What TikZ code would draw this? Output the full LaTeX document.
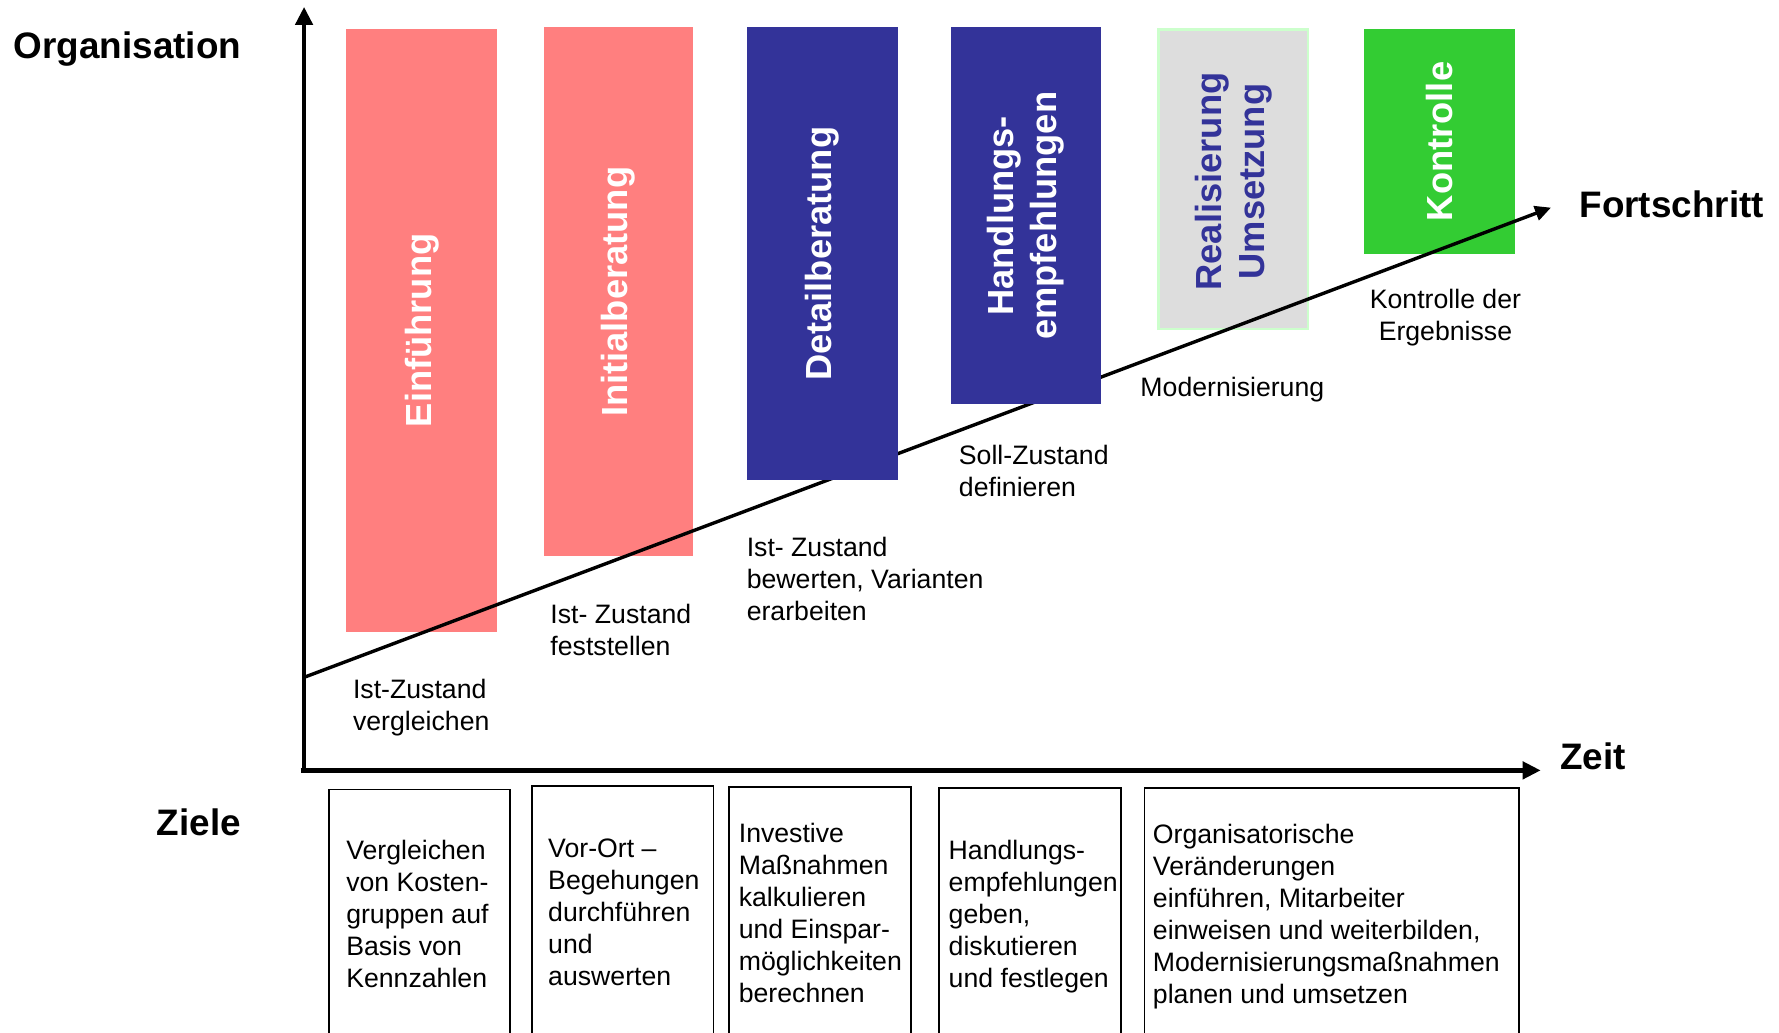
\documentclass[tikz,border=0pt]{standalone}
\usepackage{fontspec}
\setmainfont{Liberation Sans}
\usetikzlibrary{arrows.meta}
\definecolor{salmon}{HTML}{FF7F7F}
\definecolor{navy}{HTML}{333399}
\definecolor{lgray}{HTML}{DDDDDD}
\definecolor{lgreen}{HTML}{CCFFCC}
\definecolor{kgreen}{HTML}{33CC33}
\tikzset{
  phasebox/.style={draw=none, inner sep=0pt, anchor=north west},
  phasetext/.style={rotate=90, font=\fontsize{32}{38}\selectfont\bfseries, align=center, inner sep=0pt},
  lbl/.style={font=\fontsize{23.5}{28.3}\selectfont, align=left, inner sep=0pt, anchor=north west},
  title/.style={font=\fontsize{32.5}{38}\selectfont\bfseries, inner sep=0pt, anchor=base west},
  zbox/.style={draw=black, line width=1.5pt, fill=white, inner sep=0pt, anchor=north west, minimum height=260pt},
  axis/.style={line width=4pt, -{Triangle[width=15pt,length=16pt]}},
  prog/.style={line width=3pt, -{Triangle[width=13pt,length=14pt]}}
}
\begin{document}
\begin{tikzpicture}[x=1pt,y=-1pt]
\clip (0,0) rectangle (1568,910);
\fill[white] (0,0) rectangle (1568,910);

% phase boxes below the progress line
\node[phasebox, fill=salmon, minimum width=133pt, minimum height=532pt] (b1) at (305,25) {};
\node[phasebox, fill=salmon, minimum width=132pt, minimum height=466pt] (b2) at (479,24) {};
\node[phasebox, fill=lgray, draw=lgreen, line width=2pt, minimum width=132pt, minimum height=264pt] (b5) at (1020,25) {};
\node[phasebox, fill=kgreen, minimum width=133pt, minimum height=199pt] (b6) at (1202,25) {};

\node[phasetext, text=white] (t1) at (b1.center) {Einführung};
\node[phasetext, text=white] (t2) at (b2.center) {Initialberatung};
\node[phasetext, text=navy] (t5) at ([yshift=-2pt]b5.center) {Realisierung\\Umsetzung};
\node[phasetext, text=white] (t6) at (b6.center) {Kontrolle};

% axes
\coordinate (O) at (268,680);
\coordinate (ytop) at (268,6);
\coordinate (xo) at (265,679);
\coordinate (xend) at (1358,679);
\coordinate (fs) at (268,597);
\coordinate (fe) at (1367,183);
\draw[axis] (O) -- (ytop);
\draw[axis, line width=5pt] (xo) -- (xend);
\draw[prog] (fs) -- (fe);

% blue phase boxes above the progress line
\node[phasebox, fill=navy, minimum width=133pt, minimum height=399pt] (b3) at (658,24) {};
\node[phasebox, fill=navy, minimum width=132pt, minimum height=332pt] (b4) at (838,24) {};
\node[phasetext, text=white] (t3) at (b3.center) {Detailberatung};
\node[phasetext, text=white] (t4) at (b4.center) {Handlungs-\\empfehlungen};

% titles
\node[title] (org) at (12,52) {Organisation};
\node[title] (fort) at (1392,192) {Fortschritt};
\node[title] (zeit) at (1375,678) {Zeit};
\node[title] (ziele) at (138,736) {Ziele};

% step labels
\node[lbl] (l1) at (311,598) {Ist-Zustand\\vergleichen};
\node[lbl] (l2) at (485,532) {Ist- Zustand\\feststellen};
\node[lbl] (l3) at (658,473) {Ist- Zustand\\bewerten, Varianten\\erarbeiten};
\node[lbl] (l4) at (845,392) {Soll-Zustand\\definieren};
\node[lbl] (l5) at (1005,332) {Modernisierung};
\node[lbl, align=center, anchor=north] (l6) at (1274,255) {Kontrolle der\\Ergebnisse};

% goal boxes
\node[zbox, minimum width=160pt] (z1) at (289,695) {};
\node[zbox, minimum width=160pt] (z2) at (468,692) {};
\node[zbox, minimum width=160pt] (z3) at (642,693) {};
\node[zbox, minimum width=160pt] (z4) at (827,694) {};
\node[zbox, minimum width=330pt] (z5) at (1008,694) {};

\node[lbl] (g1) at (305,740) {Vergleichen\\von Kosten-\\gruppen auf\\Basis von\\Kennzahlen};
\node[lbl] (g2) at (483,739) {Vor-Ort –\\Begehungen\\durchführen\\und\\auswerten};
\node[lbl] (g3) at (651,725) {Investive\\Maßnahmen\\kalkulieren\\und Einspar-\\möglichkeiten\\berechnen};
\node[lbl] (g4) at (836,740) {Handlungs-\\empfehlungen\\geben,\\diskutieren\\und festlegen};
\node[lbl] (g5) at (1016,726) {Organisatorische\\Veränderungen\\einführen, Mitarbeiter\\einweisen und weiterbilden,\\Modernisierungsmaßnahmen\\planen und umsetzen};
\end{tikzpicture}
\end{document}
